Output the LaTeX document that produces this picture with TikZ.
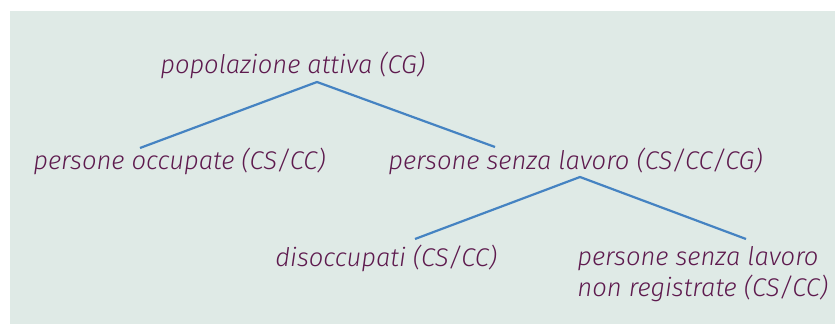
\documentclass[tikz,border=0pt]{standalone}
\usepackage{fontspec}
\setmainfont{Fira Sans Light Italic}
\usepackage{tikz}
\definecolor{bgmint}{HTML}{DFEAE6}
\definecolor{lblplum}{HTML}{5E1A4E}
\definecolor{lineblue}{HTML}{4583C2}
\tikzset{
    lbl/.style={inner sep=0pt, anchor=base west, text=lblplum, font=\fontsize{12.8}{15.5}\selectfont},
    branch/.style={draw=lineblue, line width=1.1pt}
}

\begin{document}
\begin{tikzpicture}[x=0.5pt,y=-0.5pt]
    % background
    \useasboundingbox (0,0) rectangle (835,324);
    \fill[bgmint] (10,11) rectangle (835,324);
    % labels
    \node[lbl] (pop) at (160,74) {popolazione attiva (CG)};%root
    \node[lbl] (occ) at (33,170) {persone occupate (CS/CC)};
    \node[lbl] (senza) at (388,170) {persone senza lavoro (CS/CC/CG)};
    \node[lbl] (disocc) at (275,267) {disoccupati (CS/CC)};
    \node[lbl, align=left] (nonreg) at (577,297) {persone senza lavoro\\non registrate (CS/CC)};
    % branch points
    \coordinate (popA) at (317,82);
    \coordinate (occA) at (140,148);
    \coordinate (senzaA) at (495,147);
    \coordinate (senzaB) at (580,177);
    \coordinate (disoccA) at (415,239);
    \coordinate (nonregA) at (746,239);
    % draw branches
    \draw[branch] (occA) -- (popA) -- (senzaA);
    \draw[branch] (disoccA) -- (senzaB) -- (nonregA);
\end{tikzpicture}
\end{document}
